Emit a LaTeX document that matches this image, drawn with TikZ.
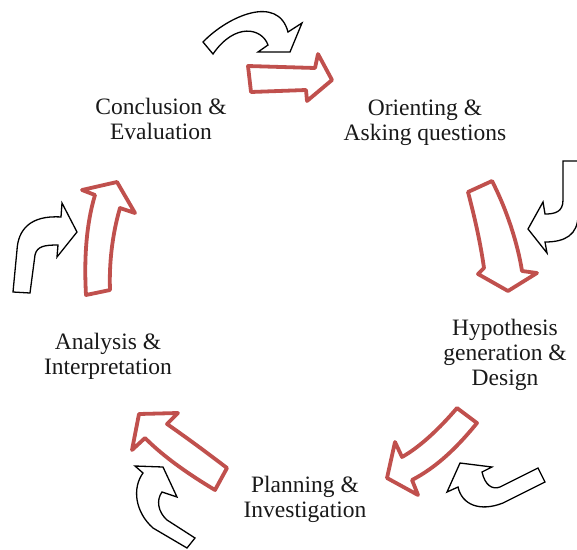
\documentclass[tikz,border=0pt]{standalone}
\usepackage{fontspec}
\setmainfont{Liberation Serif}
\definecolor{redc}{RGB}{192,80,77}
\begin{document}
\begin{tikzpicture}[x=1pt,y=-1pt,
  redarrow/.style={draw=redc,line width=3.8pt,fill=white,line join=round},
  blackarrow/.style={draw=black,line width=1.3pt,fill=white,line join=miter},
  label/.style={align=center,font=\fontsize{23.5}{25}\selectfont,text=black!90,inner sep=0pt}]
\useasboundingbox (0,0) rectangle (577,549);
\begin{scope}
\clip (0,0) rectangle (577,549);
% red arrows
\draw[redarrow] (248,66) -- (315,68) -- (318,54) -- (332,80) -- (307,101) -- (306,90) -- (251,92) -- cycle;
\draw[redarrow] (468,192) -- (492,181) .. controls (507,210) and (518,245) .. (522,271) -- (537,273) -- (508,291) -- (478,274) -- (484,268) .. controls (480,240) and (474,215) .. cycle;
\draw[redarrow] (457,408) -- (477,423) .. controls (455,450) and (435,468) .. (412,480) -- (418,495) -- (387,478) -- (395,442) -- (402,457) .. controls (420,447) and (440,428) .. cycle;
\draw[redarrow] (139,414) -- (178,413) -- (167,424) .. controls (190,440) and (210,455) .. (227,468) -- (215,490) .. controls (190,475) and (165,458) .. (145,438) -- (132,450) -- cycle;
\draw[redarrow] (117,182) -- (135,213) -- (120,208) .. controls (112,235) and (109,265) .. (110,290) -- (86,295) .. controls (84,260) and (86,225) .. (95,195) -- (82,190) -- cycle;
% black arrows
\draw[blackarrow] (203,42) .. controls (228,16) and (278,-6) .. (288,32) -- (302,23) -- (290,52) -- (258,52) -- (268,45) .. controls (262,28) and (235,22) .. (213,54) -- cycle;
\draw[blackarrow] (563,161) -- (563,200) .. controls (563,212) and (555,214) .. (545,214) -- (543,202) -- (528,229) -- (547,253) -- (545,242) .. controls (565,242) and (578,235) .. (578,215) -- (578,161) -- cycle;
\draw[blackarrow] (13,292) -- (30,293) -- (35,255) .. controls (37,246) and (45,245) .. (58,245) -- (57,257) -- (77,232) -- (62,203) -- (61,217) .. controls (30,215) and (18,230) .. (17,250) -- cycle;
\draw[blackarrow] (538,468) -- (545,482) -- (503,503) .. controls (480,512) and (462,505) .. (458,487) -- (447,492) -- (460,463) -- (492,467) -- (482,472) .. controls (485,485) and (492,490) .. (500,487) -- cycle;
\draw[blackarrow] (163,467) -- (177,497) -- (162,492) .. controls (156,500) and (158,512) .. (167,520) -- (195,538) -- (187,548) -- (153,528) .. controls (135,512) and (132,488) .. (143,473) -- (135,466) -- cycle;
\end{scope}
% labels
\node[label] (concl) at (161,119) {Conclusion \&\\Evaluation};
\node[label] (orient) at (425,123) {Orienting \&\\Asking questions};
\node[label] (hypo) at (505,355) {Hypothesis\\generation \&\\Design};
\node[label] (anal) at (108,356) {Analysis \&\\Interpretation};
\node[label] (plan) at (305,499) {Planning \&\\Investigation};
\end{tikzpicture}
\end{document}
